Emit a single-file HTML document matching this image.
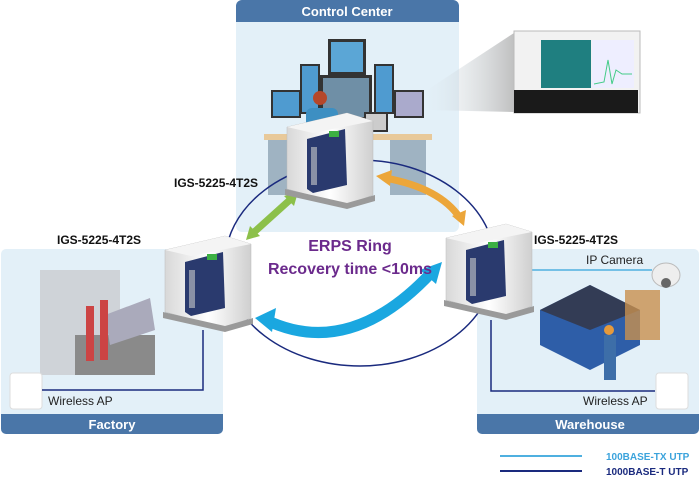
<!DOCTYPE html>
<html><head><meta charset="utf-8"><style>
body{margin:0;background:#fff;width:700px;height:478px;overflow:hidden}
svg{display:block}
text{font-family:"Liberation Sans",Arial,sans-serif}
</style></head><body>
<svg width="700" height="478" viewBox="0 0 700 478" xmlns="http://www.w3.org/2000/svg">
<defs>
<linearGradient id="sg" x1="0" x2="1"><stop offset="0" stop-color="#d8d8d8"/><stop offset=".5" stop-color="#ffffff"/><stop offset="1" stop-color="#cfcfcf"/></linearGradient>
<linearGradient id="beam" x1="0" x2="1"><stop offset="0" stop-color="#e4f0f8" stop-opacity=".2"/><stop offset="1" stop-color="#b0b0b0"/></linearGradient>
<g id="sw">
<polygon points="0,14 60,0 86,8 86,82 60,92 0,76" fill="url(#sg)" stroke="#bbb" stroke-width=".5"/>
<polygon points="0,14 60,0 86,8 26,20" fill="#f4f4f4"/>
<polygon points="-2,76 60,90 88,82 88,88 60,96 -2,82" fill="#9a9a9a"/>
<polygon points="20,26 58,16 60,72 26,80 20,76" fill="#2a3a6e"/>
<rect x="42" y="18" width="10" height="6" fill="#3cb043"/>
<rect x="24" y="34" width="6" height="38" fill="#ccc" opacity=".6"/>
</g>
</defs>

<rect x="236" y="0" width="223" height="232" rx="6" fill="#e3f0f8"/>
<path d="M236,22 V6 a6,6 0 0 1 6,-6 H453 a6,6 0 0 1 6,6 V22 Z" fill="#4a76a8"/>
<text x="347" y="16" font-size="13" font-weight="bold" fill="#fff" text-anchor="middle">Control Center</text>
<rect x="328" y="39" width="38" height="36" fill="#333"/><rect x="331" y="42" width="32" height="30" fill="#5ba6d6"/>
<rect x="300" y="64" width="20" height="50" fill="#333"/><rect x="302" y="66" width="16" height="46" fill="#4f9bd0"/>
<rect x="320" y="75" width="52" height="45" fill="#333"/><rect x="323" y="78" width="46" height="39" fill="#6f8fa6"/>
<rect x="374" y="64" width="20" height="50" fill="#333"/><rect x="376" y="66" width="16" height="46" fill="#4f9bd0"/>
<rect x="271" y="90" width="30" height="28" fill="#333"/><rect x="273" y="92" width="26" height="24" fill="#4f9bd0"/>
<rect x="394" y="90" width="30" height="28" fill="#333"/><rect x="396" y="92" width="26" height="24" fill="#aac"/>
<rect x="364" y="112" width="24" height="20" fill="#333"/><rect x="366" y="114" width="20" height="16" fill="#ccc"/>
<rect x="264" y="134" width="168" height="6" fill="#e8c99a"/>
<rect x="268" y="140" width="36" height="55" fill="#9fb3c2"/><rect x="390" y="140" width="36" height="55" fill="#9fb3c2"/>
<circle cx="320" cy="98" r="7" fill="#b5472a"/><rect x="306" y="108" width="32" height="26" rx="6" fill="#3d8fc2"/>
<polygon points="424,92 514,33 514,112 424,110" fill="url(#beam)" opacity=".8"/>
<rect x="514" y="31" width="126" height="82" fill="#f2f2f2" stroke="#bbb"/>
<rect x="541" y="40" width="50" height="48" fill="#1f7f80"/>
<rect x="592" y="40" width="42" height="48" fill="#eef"/>
<polyline points="594,84 604,82 608,60 612,84 616,70 622,74 632,74" fill="none" stroke="#4c8" stroke-width="1"/>
<rect x="514" y="90" width="124" height="23" fill="#1a1a1a"/>

<rect x="1" y="249" width="222" height="185" rx="5" fill="#e3f0f8"/>
<path d="M1,414 H223 V429 a5,5 0 0 1 -5,5 H6 a5,5 0 0 1 -5,-5 Z" fill="#4a76a8"/>
<text x="112" y="429" font-size="13" font-weight="bold" fill="#fff" text-anchor="middle">Factory</text>
<rect x="477" y="249" width="222" height="185" rx="5" fill="#e3f0f8"/>
<path d="M477,414 H699 V429 a5,5 0 0 1 -5,5 H482 a5,5 0 0 1 -5,-5 Z" fill="#4a76a8"/>
<text x="590" y="429" font-size="13" font-weight="bold" fill="#fff" text-anchor="middle">Warehouse</text>

<rect x="40" y="270" width="80" height="105" fill="#c9ccd0" opacity=".8"/>
<rect x="75" y="335" width="80" height="40" fill="#8a8a8a"/>
<polygon points="105,315 150,298 155,330 110,345" fill="#aab"/>
<rect x="86" y="306" width="8" height="55" fill="#c44"/><rect x="100" y="300" width="8" height="60" fill="#c44"/>
<rect x="10" y="373" width="32" height="36" rx="3" fill="#fff" stroke="#ddd"/>
<polygon points="540,310 590,285 640,310 640,345 590,370 540,345" fill="#2e5ea8"/>
<polygon points="540,310 590,285 640,310 590,330" fill="#333c55"/>
<rect x="625" y="290" width="35" height="50" fill="#c8904e" opacity=".8"/>
<ellipse cx="666" cy="275" rx="14" ry="12" fill="#eee" stroke="#bbb"/>
<circle cx="666" cy="283" r="5" fill="#666"/>
<rect x="604" y="335" width="12" height="45" fill="#3d6ea8"/><circle cx="609" cy="330" r="5" fill="#e59a3c"/>
<rect x="656" y="373" width="32" height="36" rx="3" fill="#fff" stroke="#ddd"/>

<polyline points="203,330 203,390 42,390" fill="none" stroke="#1a2a7e" stroke-width="1.5"/>
<polyline points="491,320 491,391 655,391" fill="none" stroke="#1a2a7e" stroke-width="1.5"/>
<line x1="528" y1="270" x2="652" y2="270" stroke="#4fb0e0" stroke-width="1.5"/>
<text x="48" y="405" font-size="12" fill="#222">Wireless AP</text>
<text x="583" y="405" font-size="12" fill="#222">Wireless AP</text>
<text x="586" y="264" font-size="12" fill="#222">IP Camera</text>

<ellipse cx="360" cy="263" rx="135" ry="103" fill="none" stroke="#1a2a7e" stroke-width="1.5"/>

<path d="M252,234 L292,198" stroke="#8cc04a" stroke-width="7" fill="none"/>
<polygon points="246,240 250,226 260,236" fill="#8cc04a"/><polygon points="298,192 284,196 294,206" fill="#8cc04a"/>
<path d="M385,178 Q440,188 460,218" stroke="#eca63a" stroke-width="7" fill="none"/>
<polygon points="376,176 392,170 390,186" fill="#eca63a"/><polygon points="464,226 452,216 466,210" fill="#eca63a"/>
<path d="M266,320 Q350,360 432,272" stroke="#1aa7e0" stroke-width="11" fill="none"/>
<polygon points="255,318 276,308 272,332" fill="#1aa7e0"/><polygon points="442,262 420,270 436,284" fill="#1aa7e0"/>

<use href="#sw" x="287" y="113"/>
<use href="#sw" x="165" y="236"/>
<use href="#sw" x="446" y="224"/>

<text x="350" y="251" font-size="16" font-weight="bold" fill="#6b2a8c" text-anchor="middle">ERPS Ring</text>
<text x="350" y="274" font-size="16" font-weight="bold" fill="#6b2a8c" text-anchor="middle">Recovery time &lt;10ms</text>
<text x="174" y="187" font-size="12" font-weight="bold" fill="#111">IGS-5225-4T2S</text>
<text x="57" y="244" font-size="12" font-weight="bold" fill="#111">IGS-5225-4T2S</text>
<text x="534" y="244" font-size="12" font-weight="bold" fill="#111">IGS-5225-4T2S</text>

<line x1="500" y1="456" x2="582" y2="456" stroke="#4fb0e0" stroke-width="2"/>
<line x1="500" y1="471" x2="582" y2="471" stroke="#1a2a7e" stroke-width="2"/>
<text x="606" y="460" font-size="10" font-weight="bold" fill="#3ba3dc">100BASE-TX UTP</text>
<text x="606" y="475" font-size="10" font-weight="bold" fill="#1a2a7e">1000BASE-T UTP</text>
</svg>
</body></html>
